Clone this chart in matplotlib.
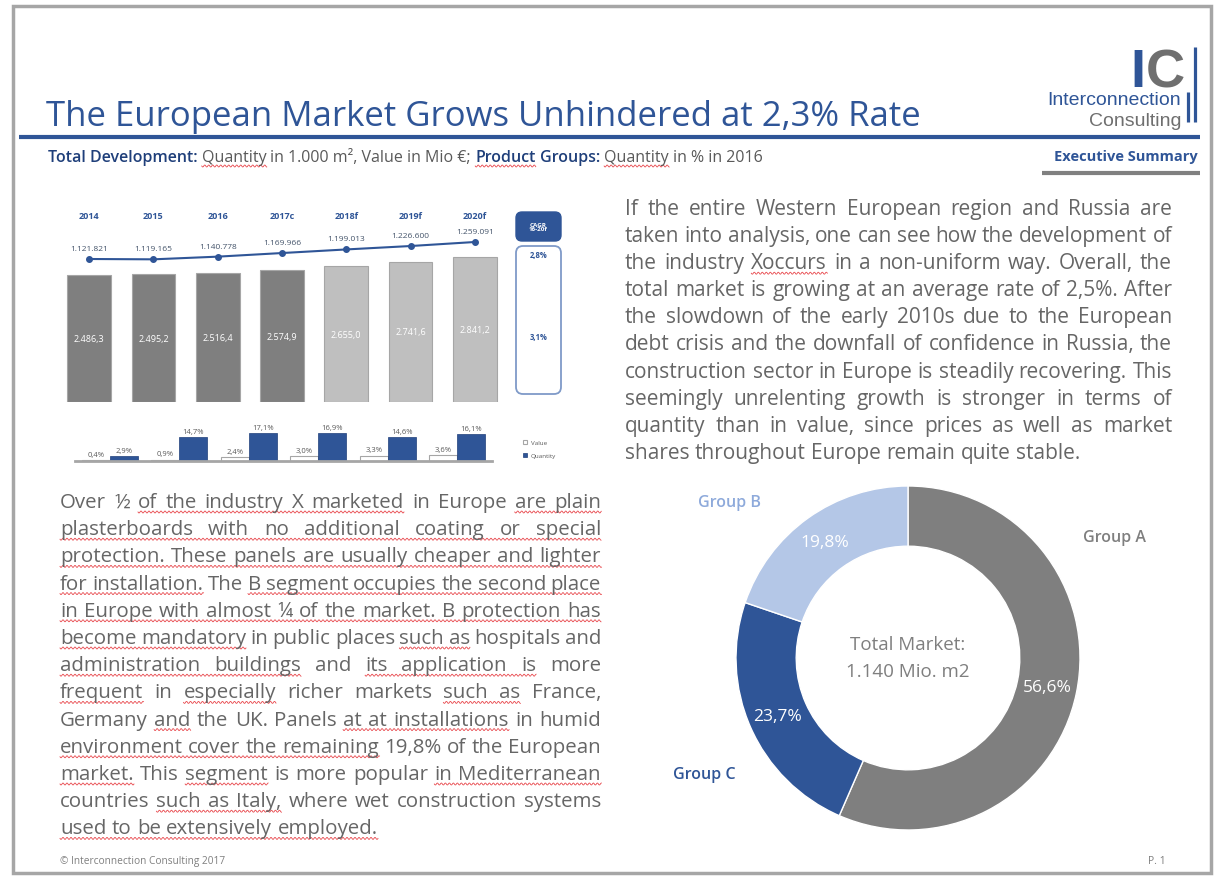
import matplotlib
matplotlib.use("Agg")
import matplotlib.pyplot as plt
from matplotlib.patches import FancyBboxPatch, Rectangle
import numpy as np

plt.rcParams['font.family'] = ['Open Sans', 'DejaVu Sans']

# ---- data ----
years = ["2014", "2015", "2016", "2017c", "2018f", "2019f", "2020f"]
value_mio = [2486.3, 2495.2, 2516.4, 2574.9, 2655.0, 2741.6, 2841.2]
quantity_k = [1121821, 1119165, 1140778, 1169966, 1199013, 1226600, 1259091]
growth_value = [0.4, 0.9, 2.4, 3.0, 3.3, 3.6]
growth_quantity = [2.9, 14.7, 17.1, 16.9, 14.6, 16.1]
cagr_labels = ["2,8%", "3,1%"]
groups = ["Group A", "Group C", "Group B"]
shares = [56.6, 23.7, 19.8]

right_lines = [
    "If the entire Western European region and Russia are",
    "taken into analysis, one can see how the development of",
    "the industry Xoccurs in a non-uniform way. Overall, the",
    "total market is growing at an average rate of 2,5%. After",
    "the slowdown of the early 2010s due to the European",
    "debt crisis and the downfall of confidence in Russia, the",
    "construction sector in Europe is steadily recovering. This",
    "seemingly unrelenting growth is stronger in terms of",
    "quantity than in value, since prices as well as market",
    "shares throughout Europe remain quite stable.",
]
right_marks = [[], [], [(2, 2)], [], [], [], [], [], [], []]

left_lines = [
    "Over \u00bd of the industry X marketed in Europe are plain",
    "plasterboards with no additional coating or special",
    "protection. These panels are usually cheaper and lighter",
    "for installation. The B segment occupies the second place",
    "in Europe with almost \u00bc of the market. B protection has",
    "become mandatory in public places such as hospitals and",
    "administration buildings and its application is more",
    "frequent in especially richer markets such as France,",
    "Germany and the UK. Panels at at installations in humid",
    "environment cover the remaining 19,8% of the European",
    "market. This segment is more popular in Mediterranean",
    "countries such as Italy, where wet construction systems",
    "used to be extensively employed.",
]
# spell-check squiggles (word index ranges per line)
left_marks = [
    [(2, 6), (9, 10)], [(0, 6)], [(0, 7)], [(0, 1), (3, 8)], [(0, 10)],
    [(0, 1), (5, 6)], [(0, 1), (3, 5)], [(0, 0), (2, 2), (5, 6)],
    [(1, 1), (5, 7)], [(0, 3)], [(0, 0), (2, 2), (6, 7)], [(1, 3)], [(0, 4)],
]

BLUE = '#2F5597'
GRAY = '#7F7F7F'
LGRAY = '#BFBFBF'
TXT = '#666666'
W, H = 1217, 878


def de(v, dec):
    s = f"{v:,.{dec}f}"
    return s.replace(",", "X").replace(".", ",").replace("X", ".")


fig = plt.figure(figsize=(W / 100, H / 100), dpi=100)
bg = fig.add_axes([0, 0, 1, 1])
bg.set_xlim(0, W)
bg.set_ylim(H, 0)
bg.axis('off')
renderer = fig.canvas.get_renderer()


def px_axes(x0, y0, x1, y1):
    return fig.add_axes([x0 / W, 1 - y1 / H, (x1 - x0) / W, (y1 - y0) / H])


def text_w(s, **kw):
    t = bg.text(0, 0, s, **kw)
    w = t.get_window_extent(renderer).width
    t.remove()
    return w


def squiggle(x0, x1, y):
    xx = np.arange(x0, x1 + 0.5, 0.5)
    bg.plot(xx, y + 1.0 * np.sin((xx - x0) * np.pi / 2), color='#E8474C', lw=0.6)


def paragraph(lines, marks, x0, x1, y0, step, size, color):
    width = x1 - x0
    # shrink the font if a line does not fit
    need = 0
    for ln in lines:
        ws = [text_w(w, fontsize=size) for w in ln.split()]
        need = max(need, sum(ws) + size * 0.3 * (len(ws) - 1))
    if need > width:
        size = size * width / need
    space = text_w("a a", fontsize=size) - text_w("aa", fontsize=size)
    for i, ln in enumerate(lines):
        words = ln.split()
        ws = [text_w(w, fontsize=size) for w in words]
        last = i == len(lines) - 1
        gap = space if last else (width - sum(ws)) / (len(words) - 1)
        x = x0
        starts = []
        y = y0 + i * step
        for w, ww in zip(words, ws):
            bg.text(x, y, w, fontsize=size, color=color, va='baseline', ha='left')
            starts.append(x)
            x += ww + gap
        for a, b in marks[i]:
            squiggle(starts[a], starts[b] + ws[b], y + 5)


# ---- page frame and header ----
bg.add_patch(Rectangle((13, 7), 1198, 867, fill=False, ec='#A6A6A6', lw=2.5))
bg.text(46, 126, "The European Market Grows Unhindered at 2,3% Rate",
        fontsize=25, color=BLUE, va='baseline')
bg.plot([19, 1200], [137.5, 137.5], color=BLUE, lw=3, solid_capstyle='butt')

x = 48
sp = text_w("a a", fontsize=11.5) - text_w("aa", fontsize=11.5)
for s, c, wgt, sq in [("Total Development:", '#1F3F7A', 'semibold', False),
                      ("Quantity", '#595959', 'normal', True),
                      ("in 1.000 m\u00b2, Value in Mio \u20ac;", '#595959', 'normal', False),
                      ("Product", '#1F3F7A', 'semibold', True),
                      ("Groups:", '#1F3F7A', 'semibold', False),
                      ("Quantity", '#595959', 'normal', True),
                      ("in % in 2016", '#595959', 'normal', False)]:
    bg.text(x, 162, s, fontsize=11.5, color=c, fontweight=wgt, va='baseline')
    w = text_w(s, fontsize=11.5, fontweight=wgt)
    if sq:
        squiggle(x, x + w, 167)
    x += w + sp

bg.text(1198, 161, "Executive Summary", fontsize=10.5, color=BLUE,
        fontweight='bold', ha='right', va='baseline')
bg.plot([1042, 1200], [174, 174], color='#808080', lw=3, solid_capstyle='butt')

# logo
bg.text(1130, 87, "I", fontsize=39, fontweight='bold', color=BLUE,
        family='Liberation Sans', va='baseline')
bg.text(1146, 87, "C", fontsize=39, fontweight='bold', color='#6F6F6F',
        family='Liberation Sans', va='baseline')
bg.plot([1195, 1195], [48, 123], color=BLUE, lw=2.3, solid_capstyle='butt')
bg.plot([1188, 1188], [93, 123], color=BLUE, lw=2.3, solid_capstyle='butt')
bg.text(1181, 105, "Interconnection", fontsize=14, color=BLUE,
        family='Liberation Sans', ha='right', va='baseline')
bg.text(1181, 126, "Consulting", fontsize=14, color='#6F6F6F',
        family='Liberation Sans', ha='right', va='baseline')

# ---- main bar chart (value) + line (quantity) ----
ax1 = px_axes(57, 200, 507, 403)
xs = range(len(years))
bar_cols = [GRAY] * 4 + [LGRAY] * 3
ax1.bar(xs, value_mio, width=0.68, color=bar_cols, edgecolor='#A6A6A6', lw=0.8)
ax1.set_xlim(-0.5, 6.5)
ax1.set_ylim(0, 203 / 0.0511)
ax1.axis('off')
for i, v in enumerate(value_mio):
    ax1.text(i, v / 2, de(v, 1), color='white', ha='center', va='center', fontsize=6.5)
    ax1.text(i, 0.921, years[i], transform=ax1.get_xaxis_transform(),
             color=BLUE, fontsize=6.5, fontweight='bold', ha='center', va='center')

ax2 = ax1.twinx()
px_per = 17 / (1259091 - 1121821)
ax2.set_ylim(1121821 - 143 / px_per, 1121821 + 60 / px_per)
ax2.plot(xs, quantity_k, color=BLUE, lw=1.5, marker='o', ms=4)
ax2.axis('off')
for i, q in enumerate(quantity_k):
    ax2.annotate(de(q, 0), (i, q), xytext=(0, 5), textcoords='offset points',
                 ha='center', va='bottom', fontsize=6, color='#44546A')

# CAGR boxes
bg.add_patch(FancyBboxPatch((516, 213), 45, 29, boxstyle='round,pad=0,rounding_size=6',
                            fc=BLUE, ec=BLUE))
bg.text(538.5, 227.5, "CAGR\n16-20f", color='white', fontsize=4.5, fontweight='bold',
        ha='center', va='center', linespacing=0.9)
bg.add_patch(FancyBboxPatch((516, 247), 45, 148, boxstyle='round,pad=0,rounding_size=7',
                            fc='white', ec='#7F9AC8', lw=1.3))
bg.text(538.5, 256, cagr_labels[0], color=BLUE, fontsize=5.5, fontweight='bold',
        ha='center', va='center')
bg.text(538.5, 338, cagr_labels[1], color=BLUE, fontsize=5.5, fontweight='bold',
        ha='center', va='center')

# ---- small growth bar chart ----
ax3 = px_axes(75, 420, 492, 462)
gx = range(len(growth_value))
vb = ax3.bar([i - 0.2 for i in gx], growth_value, width=0.4, color='white',
             edgecolor='#A6A6A6', lw=0.8)
qb = ax3.bar([i + 0.2 for i in gx], growth_quantity, width=0.4, color=BLUE,
             edgecolor='#1F3F7A', lw=0.5)
ax3.set_xlim(-0.5, 5.5)
ax3.set_ylim(0, 42 / 1.65)
ax3.axhline(0, color='#A6A6A6', lw=2, clip_on=False)
ax3.axis('off')
for i in gx:
    ax3.annotate(de(growth_value[i], 1) + "%", (i - 0.2, growth_value[i]),
                 xytext=(0, 1.5), textcoords='offset points', ha='center',
                 va='bottom', fontsize=5.5, color='#595959')
    ax3.annotate(de(growth_quantity[i], 1) + "%", (i + 0.2, growth_quantity[i]),
                 xytext=(0, 1.5), textcoords='offset points', ha='center',
                 va='bottom', fontsize=5.5, color='#595959')
ax3.legend([vb, qb], ["Value", "Quantity"], loc='center left',
           bbox_to_anchor=(517 / W, 1 - 450 / H), bbox_transform=fig.transFigure,
           frameon=False, fontsize=4.5, handlelength=0.7, handleheight=0.7,
           labelspacing=1.3, handletextpad=0.6, labelcolor='#595959')

# ---- paragraphs ----
paragraph(right_lines, right_marks, 625, 1172, 215, 27.1, 15, TXT)
paragraph(left_lines, left_marks, 60, 601, 508, 27.2, 15, TXT)

# ---- donut ----
ax4 = px_axes(908 - 180, 659 - 180, 908 + 180, 659 + 180)
R = 172 / 180
wedges, _ = ax4.pie(shares, colors=[GRAY, BLUE, '#B4C7E7'], startangle=90,
                    counterclock=False, radius=R,
                    wedgeprops=dict(width=R * 0.35, edgecolor='white', lw=1))
ax4.set_xlim(-1, 1)
ax4.set_ylim(-1, 1)
ax4.set_aspect('equal')
ax4.axis('off')
for wdg, s in zip(wedges, shares):
    a = np.deg2rad((wdg.theta1 + wdg.theta2) / 2)
    ax4.text(0.83 * R * np.cos(a), 0.83 * R * np.sin(a), de(s, 1) + "%",
             color='white', fontsize=12.5, ha='center', va='center')
ax4.text(0, 0.08, "Total Market:", ha='center', va='center', fontsize=13.5, color=GRAY)
ax4.text(0, -0.07, "1.140 Mio. m2", ha='center', va='center', fontsize=13.5, color=GRAY)

bg.text(1083, 538, groups[0], color=GRAY, fontsize=11.5, fontweight='semibold', va='center')
bg.text(698, 503, groups[2], color='#8EAADB', fontsize=11.5, fontweight='semibold', va='center')
bg.text(673, 775, groups[1], color=BLUE, fontsize=11.5, fontweight='semibold', va='center')

# ---- footer ----
bg.text(60, 864, "\u00a9 Interconnection Consulting 2017", fontsize=7.3, color=GRAY, va='baseline')
bg.text(1148, 864, "P. 1", fontsize=7.5, color=GRAY, va='baseline')

fig.savefig("out.png", dpi=100)
